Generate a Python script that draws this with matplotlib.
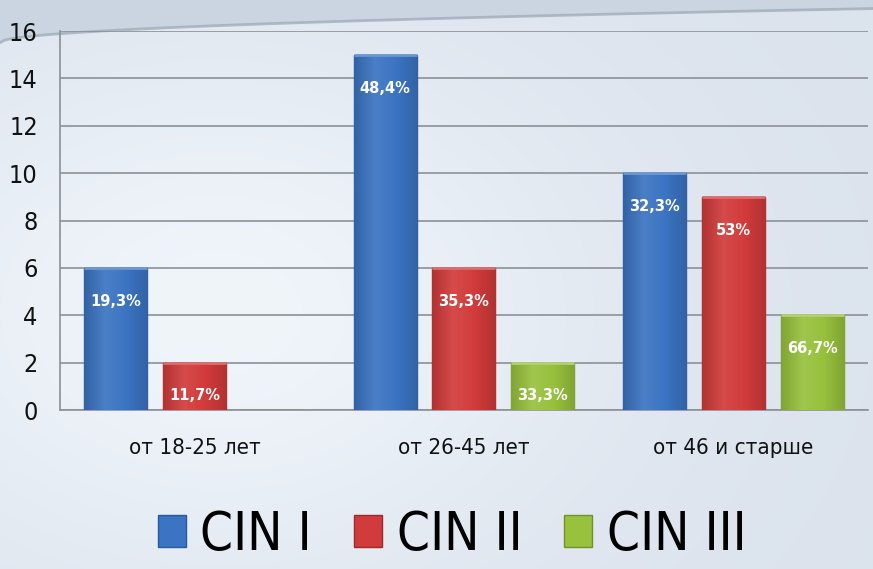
import numpy as np
import matplotlib
matplotlib.use("Agg")
import matplotlib.pyplot as plt
from matplotlib.patches import Patch
from matplotlib.colors import LinearSegmentedColormap, to_rgb

categories = ["от 18-25 лет", "от 26-45 лет", "от 46 и старше"]
series = ["CIN I", "CIN II", "CIN III"]
values = {
    "CIN I": [6, 15, 10],
    "CIN II": [2, 6, 9],
    "CIN III": [0, 2, 4],
}
labels = {
    "CIN I": ["19,3%", "48,4%", "32,3%"],
    "CIN II": ["11,7%", "35,3%", "53%"],
    "CIN III": ["", "33,3%", "66,7%"],
}
colors = {"CIN I": "#3b74c2", "CIN II": "#d23b3b", "CIN III": "#98c13d"}
edges = {"CIN I": "#285a9a", "CIN II": "#a02828", "CIN III": "#6f9426"}

plt.rcParams["font.family"] = ["DejaVu Sans"]
cond = {"family": "DejaVu Sans", "stretch": "condensed"}

fig = plt.figure(figsize=(8.73, 5.69), dpi=100)

# soft background gradient
bg = fig.add_axes([0, 0, 1, 1], zorder=-10)
yy, xx = np.mgrid[0:1:200j, 0:1:300j]
base = np.array([0.86, 0.89, 0.93])
light = np.array([0.94, 0.96, 0.98])
w = np.exp(-((xx - 0.25) ** 2 / 0.2 + (yy - 0.55) ** 2 / 0.25))
img = base[None, None, :] * (1 - w[..., None]) + light[None, None, :] * w[..., None]
bg.imshow(img, aspect="auto", extent=[0, 1, 0, 1], origin="upper")
# darker swoosh at the top
xs = np.linspace(0, 1, 200)
top_curve = 0.925 + 0.06 * np.sqrt(xs)
bg.fill_between(xs, top_curve, 1.0, color="#cbd5e2", lw=0)
bg.plot(xs, top_curve, color="#9aa6b4", lw=2, alpha=0.7)
bg.set_xlim(0, 1)
bg.set_ylim(0, 1)
bg.axis("off")

ax = fig.add_axes([0.0687, 0.2794, 0.9255, 0.666])
ax.patch.set_alpha(0)


def shade(c, k):
    r = np.array(to_rgb(c))
    return tuple(np.clip(r * k if k < 1 else r + (1 - r) * (k - 1), 0, 1))


x = np.arange(len(categories))
width = 0.234
offsets = [-0.293, 0.0, 0.293]
grad = np.linspace(0, 1, 64)[None, :]
for s, off in zip(series, offsets):
    bars = ax.bar(x + off, values[s], width, color=colors[s], edgecolor=edges[s],
                  linewidth=1.0, zorder=3)
    cmap = LinearSegmentedColormap.from_list(
        s, [shade(colors[s], 0.85), shade(colors[s], 1.08), colors[s], shade(colors[s], 0.85)])
    for b, v, lab in zip(bars, values[s], labels[s]):
        if v == 0:
            continue
        x0, x1 = b.get_x(), b.get_x() + b.get_width()
        im = ax.imshow(grad, cmap=cmap, aspect="auto", extent=[x0, x1, 0, v],
                       zorder=3.5, interpolation="bilinear")
        im.set_clip_path(b)
        ax.plot([x0, x1], [v, v], color=shade(colors[s], 1.25), lw=2, zorder=3.6,
                solid_capstyle="butt")
        if lab:
            ax.annotate(lab, ((x0 + x1) / 2, v), xytext=(0, -24),
                        textcoords="offset points", ha="center", va="center",
                        color="white", fontsize=10.5, fontweight="bold", zorder=4)

ax.set_xlim(-0.5, 2.5)
ax.set_ylim(0, 16)
ax.set_yticks(np.arange(0, 17, 2))
ax.yaxis.grid(True, color="#8c9198", linewidth=1.2, zorder=1)
ax.set_axisbelow(True)
for sp in ["top", "right"]:
    ax.spines[sp].set_visible(False)
ax.spines["left"].set_color("#8c9198")
ax.spines["bottom"].set_color("#8c9198")
ax.spines["left"].set_linewidth(1.2)
ax.spines["bottom"].set_linewidth(1.2)
ax.tick_params(axis="both", length=0)
ax.tick_params(axis="y", pad=16)
ax.tick_params(axis="x", pad=20)
ax.set_xticks(x)
ax.set_xticklabels(categories, fontsize=16, color="#111111", **cond)
for t in ax.get_yticklabels():
    t.set_family("DejaVu Sans")
    t.set_stretch("condensed")
    t.set_fontsize(18)
    t.set_color("#111111")

handles = [Patch(facecolor=colors[s], edgecolor=edges[s]) for s in series]
leg = fig.legend(handles, series, loc="center", bbox_to_anchor=(0.518, 0.06),
                 ncol=3, frameon=False,
                 prop={"family": "DejaVu Sans", "stretch": "condensed", "size": 38},
                 handlelength=0.52, handleheight=0.57, handletextpad=0.28,
                 columnspacing=0.8)

fig.savefig("out.png", dpi=100)
